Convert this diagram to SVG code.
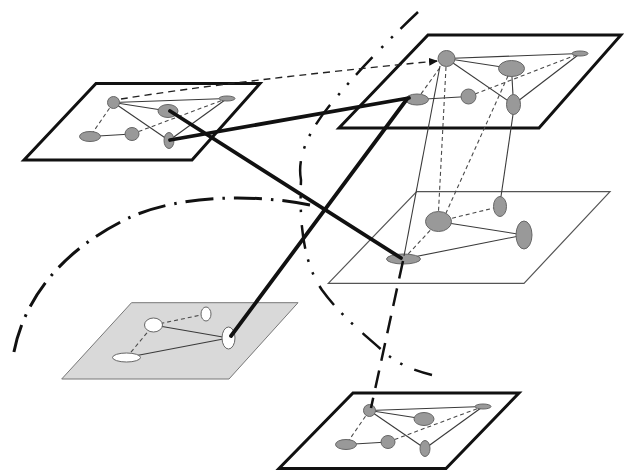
<svg xmlns="http://www.w3.org/2000/svg" width="624" height="470" viewBox="0 0 624 470">
  <style>
    .bold{fill:#fff;stroke:#111;stroke-width:3;stroke-linejoin:miter}
    .thin{fill:#fff;stroke:#555;stroke-width:1.2}
    .shade{fill:#d9d9d9;stroke:#777;stroke-width:1}
    .n{fill:#999;stroke:#666;stroke-width:1}
    .w{fill:#fff;stroke:#666;stroke-width:1}
    .e{stroke:#3a3a3a;stroke-width:1.1;fill:none}
    .d{stroke:#4a4a4a;stroke-width:1.1;fill:none;stroke-dasharray:4 3}
    .heavy{stroke:#111;stroke-width:3.8;fill:none;stroke-linecap:round}
    .ddot{fill:none;stroke:#111;stroke-width:2.5;stroke-dasharray:24 11 2.5 11 2.5 13}
    .dot{fill:none;stroke:#111;stroke-width:3;stroke-dasharray:28 9 2.5 9}
    .drop{stroke:#111;stroke-width:2.5;stroke-dasharray:18 10;fill:none}
    .link{stroke:#222;stroke-width:1.4;fill:none;stroke-dasharray:7 5}
  </style>
  <defs>
    <marker id="tip" markerUnits="userSpaceOnUse" markerWidth="9" markerHeight="8" refX="8" refY="4" orient="auto">
      <path d="M0,0 L9,4 L0,8 z" fill="#111"/>
    </marker>
    <!-- small six-node graph shared by two layers -->
    <g id="small-graph">
      <line class="e" x1="113.5" y1="102.5" x2="227" y2="98.5"/>
      <line class="e" x1="113.5" y1="102.5" x2="168" y2="111"/>
      <line class="e" x1="113.5" y1="102.5" x2="169" y2="140.5"/>
      <line class="e" x1="169" y1="140.5" x2="227" y2="98.5"/>
      <line class="e" x1="90" y1="136.5" x2="132" y2="134"/>
      <line class="d" x1="113.5" y1="102.5" x2="90" y2="136.5"/>
      <line class="d" x1="132" y1="134" x2="227" y2="98.5"/>
      <ellipse class="n" cx="113.5" cy="102.5" rx="6" ry="6"/>
      <ellipse class="n" cx="227" cy="98.5" rx="8" ry="2.5"/>
      <ellipse class="n" cx="168" cy="111" rx="10" ry="6.5"/>
      <ellipse class="n" cx="90" cy="136.5" rx="10.5" ry="5"/>
      <ellipse class="n" cx="132" cy="134" rx="7" ry="6.5"/>
      <ellipse class="n" cx="169" cy="140.5" rx="5" ry="8"/>
    </g>
  </defs>

  <rect width="624" height="470" fill="#fff"/>

  <!-- boundary curves -->
  <g id="boundaries">
    <path class="ddot" d="M418,12 Q365,62 330,105 T301,180 C299,230 305,265 322,290 C340,315 365,335 384,352 C398,364 412,370 432,375"/>
    <path class="dot" d="M310,205 C250,193 180,196 133,216 C80,240 25,285 13,357"/>
  </g>

  <g id="layer-a">
    <polygon class="bold" points="96,83.5 260,83.5 192,160 24,160"/>
    <use href="#small-graph"/>
  </g>

  <g id="layer-b">
    <polygon class="bold" points="428,35 621,35 539,128 339,128"/>
    <line class="e" x1="446.5" y1="58.5" x2="580" y2="53.5"/>
    <line class="e" x1="446.5" y1="58.5" x2="511.5" y2="68.5"/>
    <line class="e" x1="446.5" y1="58.5" x2="513.5" y2="104.5"/>
    <line class="e" x1="417" y1="99.5" x2="468.5" y2="96.5"/>
    <line class="e" x1="513.5" y1="104.5" x2="580" y2="53.5"/>
    <line class="e" x1="511.5" y1="68.5" x2="513.5" y2="104.5"/>
    <line class="d" x1="417" y1="99.5" x2="446.5" y2="58.5"/>
    <line class="d" x1="468.5" y1="96.5" x2="580" y2="53.5"/>
    <ellipse class="n" cx="446.5" cy="58.5" rx="8.5" ry="8"/>
    <ellipse class="n" cx="580" cy="53.5" rx="8" ry="2.5"/>
    <ellipse class="n" cx="511.5" cy="68.5" rx="13" ry="8"/>
    <ellipse class="n" cx="417" cy="99.5" rx="11.5" ry="5.5"/>
    <ellipse class="n" cx="468.5" cy="96.5" rx="7.5" ry="7.5"/>
    <ellipse class="n" cx="513.5" cy="104.5" rx="7" ry="10"/>
  </g>

  <g id="layer-c">
    <polygon class="thin" points="416.7,191.7 610,191.7 524,283.3 328.3,283.3"/>
    <line class="e" x1="438.5" y1="221.5" x2="524" y2="235"/>
    <line class="e" x1="403.5" y1="259" x2="524" y2="235"/>
    <line class="d" x1="438.5" y1="221.5" x2="500" y2="206.5"/>
    <line class="d" x1="403.5" y1="259" x2="438.5" y2="221.5"/>
    <ellipse class="n" cx="438.5" cy="221.5" rx="13" ry="10"/>
    <ellipse class="n" cx="500" cy="206.5" rx="6.5" ry="10"/>
    <ellipse class="n" cx="524" cy="235" rx="8" ry="14"/>
    <ellipse class="n" cx="403.5" cy="259" rx="17" ry="5"/>
  </g>

  <g id="layer-d">
    <polygon class="shade" points="131.5,302.7 298,302.7 229,379 61.7,379"/>
    <line class="e" x1="153.5" y1="325" x2="228.5" y2="338"/>
    <line class="e" x1="126.5" y1="357.5" x2="228.5" y2="338"/>
    <line class="d" x1="153.5" y1="325" x2="206" y2="314"/>
    <line class="d" x1="126.5" y1="357.5" x2="153.5" y2="325"/>
    <ellipse class="w" cx="153.5" cy="325" rx="9" ry="7"/>
    <ellipse class="w" cx="206" cy="314" rx="5" ry="7"/>
    <ellipse class="w" cx="228.5" cy="338" rx="6.5" ry="11"/>
    <ellipse class="w" cx="126.5" cy="357.5" rx="14" ry="4.5"/>
  </g>

  <g id="layer-e">
    <polygon class="bold" points="353,393 519,393 446,468.5 279,468.5"/>
    <use href="#small-graph" transform="translate(256,308)"/>
  </g>

  <g id="connectors">
    <line class="e" x1="440" y1="66" x2="404" y2="256"/>
    <line class="d" x1="446" y1="67" x2="438.5" y2="211.5"/>
    <line class="d" x1="508" y1="76" x2="446" y2="213"/>
    <line class="e" x1="513" y1="114.5" x2="501" y2="196.5"/>
    <path class="link" d="M121,99 Q240,80 437,61" marker-end="url(#tip)"/>
    <line class="heavy" x1="170" y1="111" x2="401" y2="258"/>
    <line class="heavy" x1="170" y1="140" x2="409" y2="98"/>
    <line class="heavy" x1="231" y1="336" x2="407" y2="99"/>
    <line class="drop" x1="403" y1="261" x2="371" y2="408"/>
  </g>
</svg>
